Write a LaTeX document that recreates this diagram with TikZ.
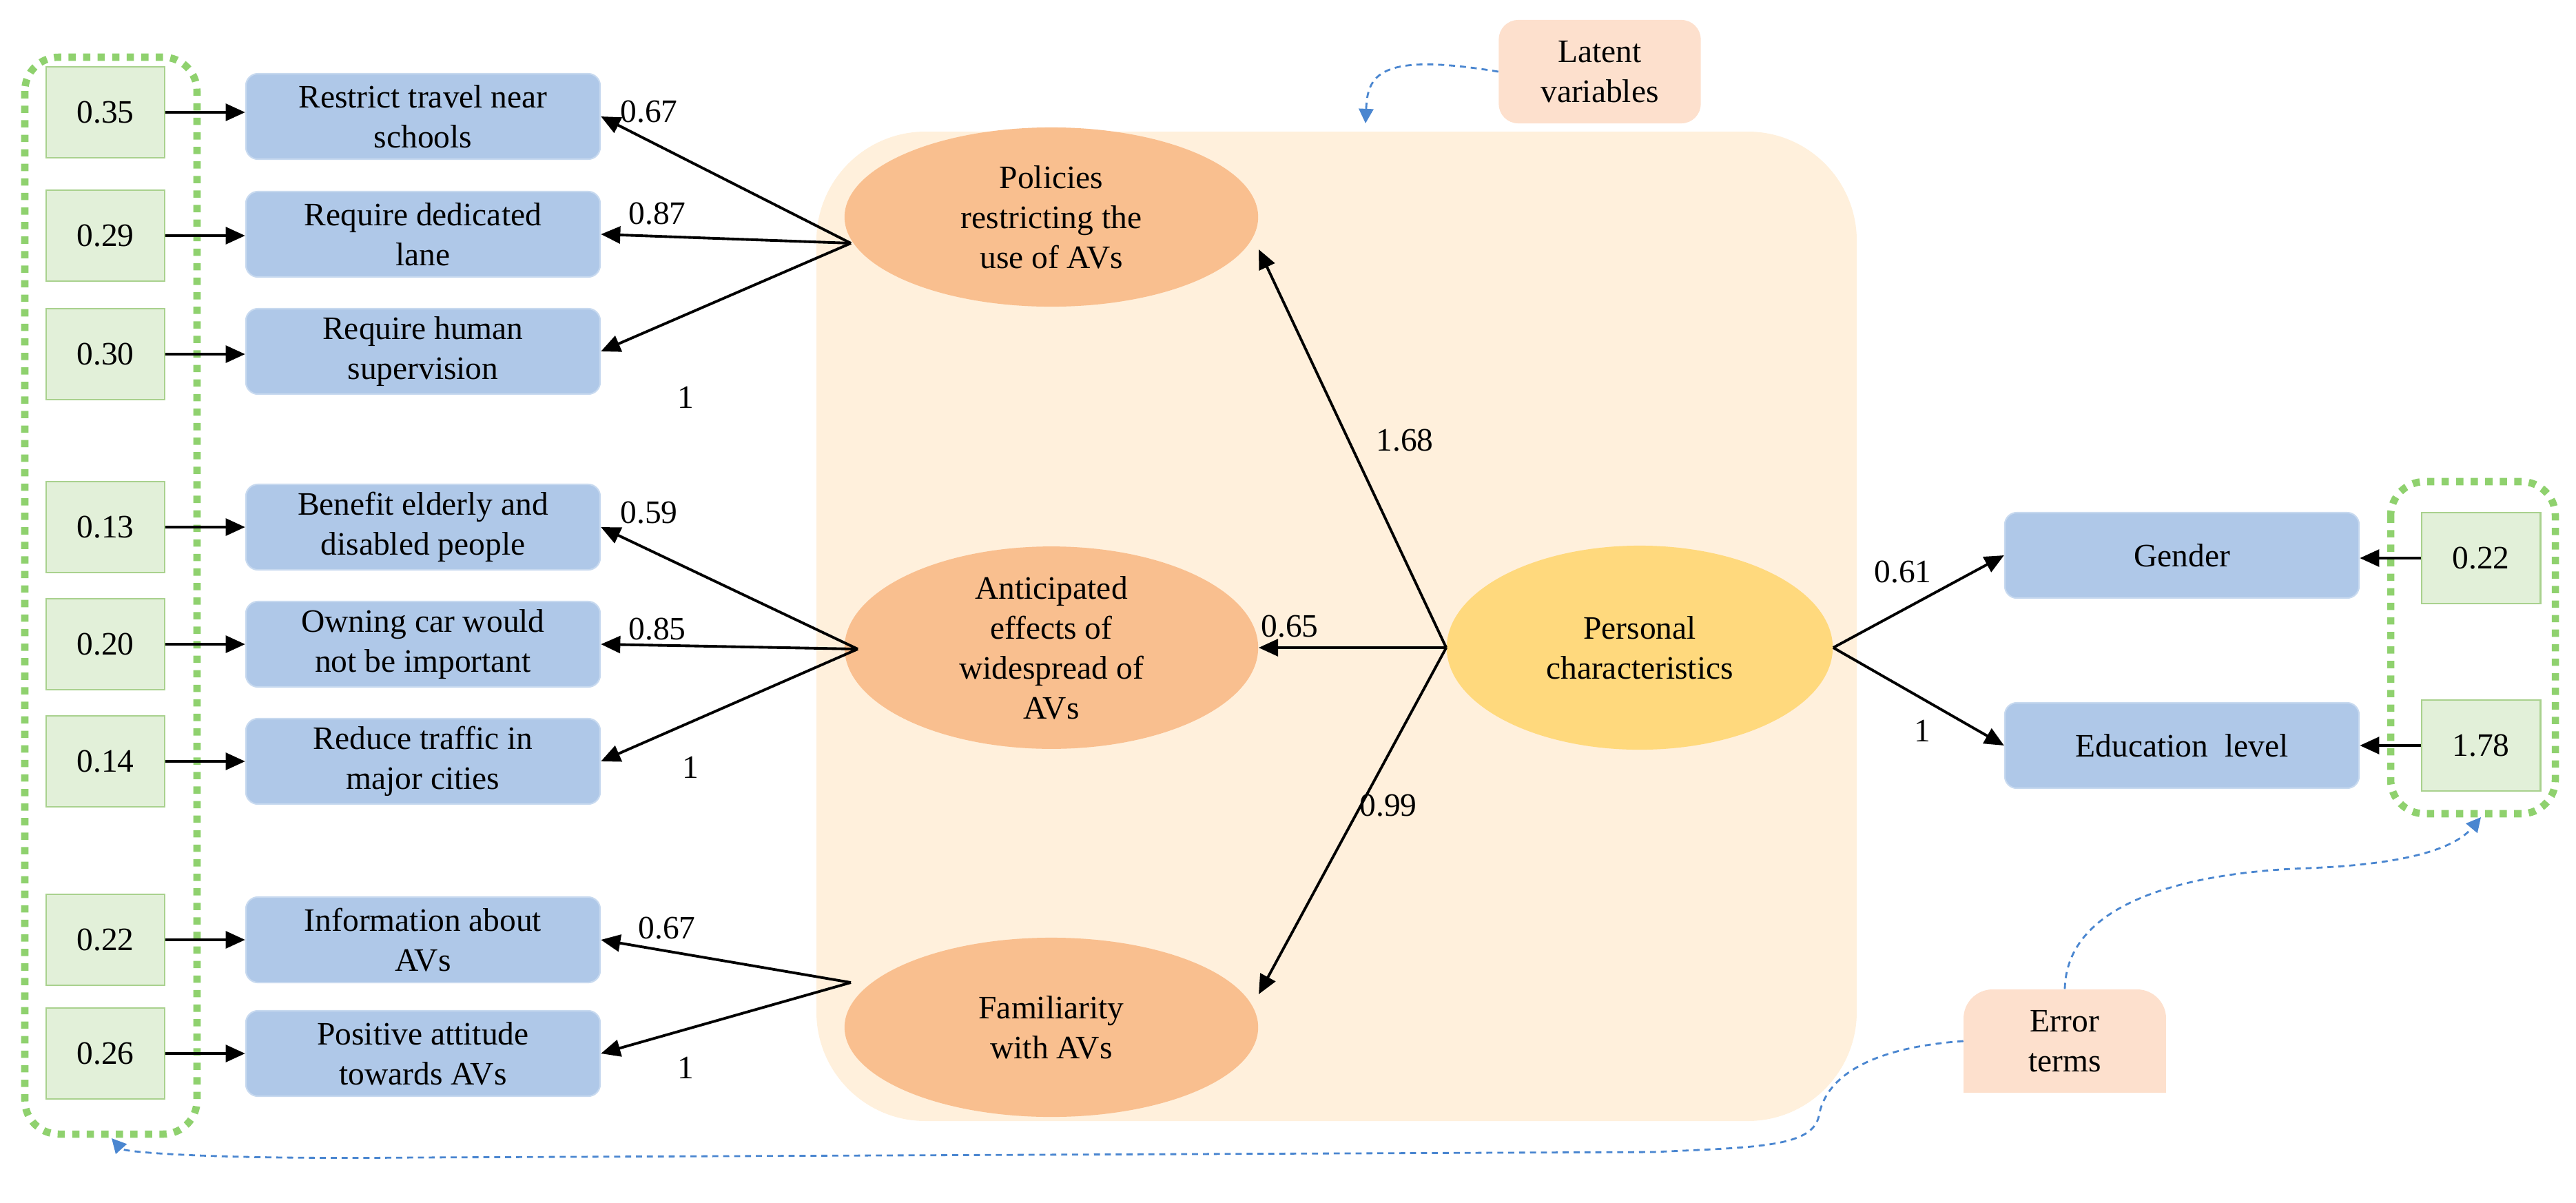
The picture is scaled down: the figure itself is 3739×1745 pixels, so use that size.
\documentclass[tikz,border=0pt]{standalone}
\usepackage{fontspec}
\setmainfont{Liberation Serif}
\usetikzlibrary{arrows.meta,shapes.geometric}
\definecolor{obsblue}{HTML}{AFC8E8}
\definecolor{errgreen}{HTML}{E2F0D9}
\definecolor{errborder}{HTML}{A9D18E}
\definecolor{dotgreen}{HTML}{8FD16E}
\definecolor{latorange}{HTML}{F9BF8F}
\definecolor{persyellow}{HTML}{FFD97D}
\definecolor{panel}{HTML}{FFF0DC}
\definecolor{pinkbox}{HTML}{FDE0CD}
\definecolor{linkblue}{HTML}{4A86D0}
\begin{document}
\begin{tikzpicture}[x=0.01cm,y=-0.01cm,
  every node/.style={font=\fontsize{13.5}{16.5}\selectfont},
  obs/.style={draw=obsblue!70!white,line width=0.6pt,fill=obsblue,rounded corners=5pt,minimum width=5.14cm,minimum height=1.24cm,align=center,inner sep=0pt},
  err/.style={draw=errborder,line width=0.8pt,fill=errgreen,minimum width=1.72cm,minimum height=1.32cm,inner sep=0pt},
  lat/.style={ellipse,fill=latorange,minimum width=6.0cm,minimum height=2.6cm,align=center,inner sep=0pt},
  arr/.style={-{Triangle[length=8pt,width=7pt]},line width=1.1pt},
  dotbox/.style={draw=dotgreen,line width=3pt,dash pattern=on 3pt off 3pt,rounded corners=14pt},
  link/.style={draw=linkblue,line width=0.8pt,dash pattern=on 2.5pt off 2pt,-{Triangle[length=6pt,width=6pt]}},
  pink/.style={fill=pinkbox,minimum width=2.93cm,minimum height=1.5cm,align=center,inner sep=0pt}
]
\useasboundingbox (0,0) rectangle (3739,1745);
\fill[panel,rounded corners=45pt] (1185,191) rectangle (2695,1627);

% dotted groups
\draw[dotbox] (36,83) rectangle (286,1646);
\draw[dotbox] (3470,699) rectangle (3709,1181);

% observed left
\node[obs] (o1) at (614,169) {Restrict travel near\\schools};
\node[obs] (o2) at (614,340) {Require dedicated\\lane};
\node[obs] (o3) at (614,510) {Require human\\supervision};
\node[obs] (o4) at (614,765) {Benefit elderly and\\disabled people};
\node[obs] (o5) at (614,935) {Owning car would\\not be important};
\node[obs] (o6) at (614,1105) {Reduce traffic in\\major cities};
\node[obs] (o7) at (614,1364) {Information about\\AVs};
\node[obs] (o8) at (614,1529) {Positive attitude\\towards AVs};

\foreach \i/\v/\y in {1/0.35/163,2/0.29/342,3/0.30/514,4/0.13/765,5/0.20/935,6/0.14/1105,7/0.22/1364,8/0.26/1529}{
  \node[err] (e\i) at (153,\y) {\v};
  \draw[arr] (e\i.east) -- (o\i.west|-e\i.east);
}

% latent
\node[lat] (L1) at (1526,315) {Policies\\restricting the\\use of AVs};
\node[lat] (L2) at (1526,940) {Anticipated\\effects of\\widespread of\\AVs};
\node[lat] (L3) at (1526,1491) {Familiarity\\with AVs};
\node[ellipse,fill=persyellow,minimum width=5.6cm,minimum height=2.96cm,align=center,inner sep=0pt] (P) at (2380,940) {Personal\\characteristics};

\coordinate (p1) at (1235,353);
\coordinate (p2) at (1245,942);
\coordinate (p3) at (1235,1426);
\draw[arr] (p1) -- (o1.east);
\draw[arr] (p1) -- (o2.east);
\draw[arr] (p1) -- (o3.east);
\draw[arr] (p2) -- (o4.east);
\draw[arr] (p2) -- (o5.east);
\draw[arr] (p2) -- (o6.east);
\draw[arr] (p3) -- (o7.east);
\draw[arr] (p3) -- (o8.east);
\node at (942,162) {0.67};
\node at (954,310) {0.87};
\node at (995,577) {1};
\node at (942,744) {0.59};
\node at (954,913) {0.85};
\node at (1002,1114) {1};
\node at (968,1347) {0.67};
\node at (995,1550) {1};

\coordinate (pl) at (P.west);
\coordinate (pr) at (P.east);
\draw[arr] (pl) -- (1827,362);
\draw[arr] (pl) -- (L2.east);
\draw[arr] (pl) -- (1827,1443);
\node at (2039,639) {1.68};
\node at (1872,909) {0.65};
\node at (2015,1169) {0.99};

\node[obs] (g) at (3167,806) {Gender};
\node[obs] (ed) at (3167,1082) {Education\ \ level};
\node[err] (eg) at (3601,810) {0.22};
\node[err] (ee) at (3601,1082) {1.78};
\draw[arr] (pr) -- (g.west);
\draw[arr] (pr) -- (ed.west);
\node at (2762,830) {0.61};
\node at (2790,1061) {1};
\draw[arr] (eg.west) -- (g.east|-eg.west);
\draw[arr] (ee.west) -- (ed.east|-ee.west);

% annotations
\node[pink,rounded corners=8pt] (lv) at (2322,104) {Latent\\variables};
\fill[pinkbox,rounded corners=12pt] (2850,1436) rectangle (3144,1520);
\fill[pinkbox] (2850,1480) rectangle (3144,1586);
\node[minimum width=2.93cm,minimum height=1.5cm,align=center,inner sep=0pt] (et) at (2997,1511) {Error\\terms};
\draw[link] (lv.west) .. controls (2000,75) and (1985,110) .. (1982,179);
\draw[link] (et.north) .. controls (3000,1300) and (3200,1265) .. (3350,1260) .. controls (3480,1255) and (3560,1235) .. (3601,1186);
\draw[link] (et.west) .. controls (2720,1520) and (2650,1560) .. (2640,1620) .. controls (2630,1665) and (2550,1665) .. (2400,1672) -- (600,1680) .. controls (300,1683) and (180,1672) .. (162,1652);
\end{tikzpicture}
\end{document}
